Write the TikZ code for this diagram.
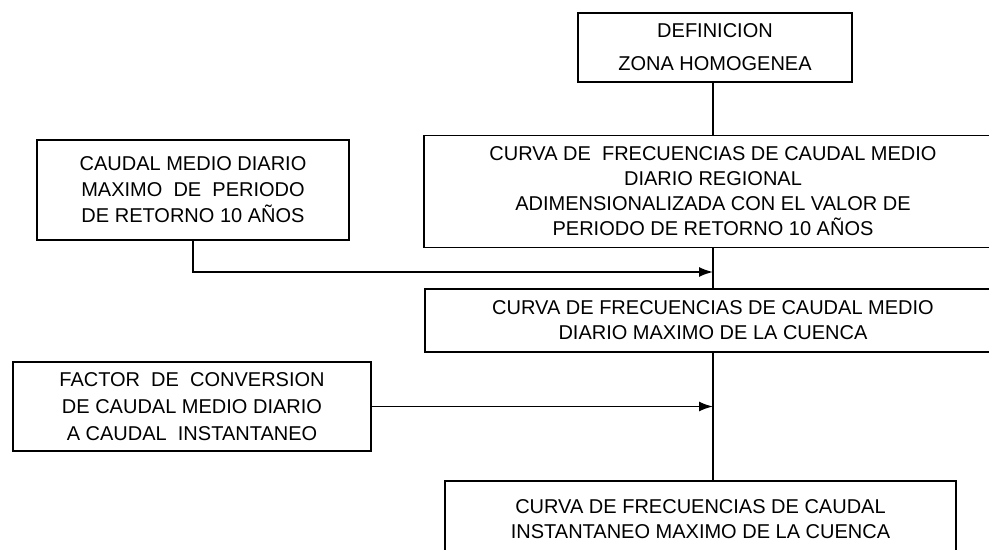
\documentclass[tikz,border=0pt]{standalone}
\usepackage{fontspec}
\setmainfont{Liberation Sans}
\usetikzlibrary{arrows.meta}

\begin{document}
\begin{tikzpicture}[x=0.5pt, y=-0.5pt, >={Latex[length=7pt, width=5pt]}, line width=0.9pt]
				\tikzstyle{box} = [draw=black, rectangle, inner sep=0pt, align=center, font=\fontsize{10}{12.5}\selectfont]
				
				\useasboundingbox (0, 0) rectangle (989, 550);
				\clip (0, 0) rectangle (989, 550);
				
				\node[box, minimum width=137pt, minimum height=34.5pt] 	at (715, 47.5) 	(def) 	{DEFINICION\\[4pt] ZONA HOMOGENEA};
				\node[box, minimum width=156pt, minimum height=50pt] 	at (193, 190) 	(qmax) 	{CAUDAL MEDIO DIARIO\\[0.5pt] MAXIMO\ \ DE\ \ PERIODO\\[0.5pt] DE RETORNO 10 AÑOS};
				\node[box, minimum width=289pt, minimum height=56pt] 	at (713, 191.5) (reg) 	{CURVA DE\ \ FRECUENCIAS DE CAUDAL MEDIO\\ DIARIO REGIONAL\\ ADIMENSIONALIZADA CON EL VALOR DE\\ PERIODO DE RETORNO 10 AÑOS};
				\node[box, minimum width=288pt, minimum height=31.5pt] 	at (713, 320.5) (cuenca) {CURVA DE FRECUENCIAS DE CAUDAL MEDIO\\ DIARIO MAXIMO DE LA CUENCA};
				\node[box, minimum width=179pt, minimum height=44.5pt] 	at (192, 406.5) (factor) {FACTOR\ \ DE\ \ CONVERSION\\[1pt] DE CAUDAL MEDIO DIARIO\\[1pt] A CAUDAL\ \ INSTANTANEO};
				\node[box, minimum width=255.5pt, minimum height=38pt] 	at (700.5, 519) (inst) 	{CURVA DE FRECUENCIAS DE CAUDAL\\ INSTANTANEO MAXIMO DE LA CUENCA};
				
				\coordinate (j1) at (713, 272);
				
				\draw (reg.north) -- (reg.north |- def.south);
				\path[-]
				(reg)	edge	(cuenca);
				\draw (cuenca.south) -- (cuenca.south |- inst.north);
				
				\draw[->] (qmax.south) |- (j1);
				\draw[->] (factor.east) -- (factor.east -| cuenca.south);
				\end{tikzpicture}
\end{document}
